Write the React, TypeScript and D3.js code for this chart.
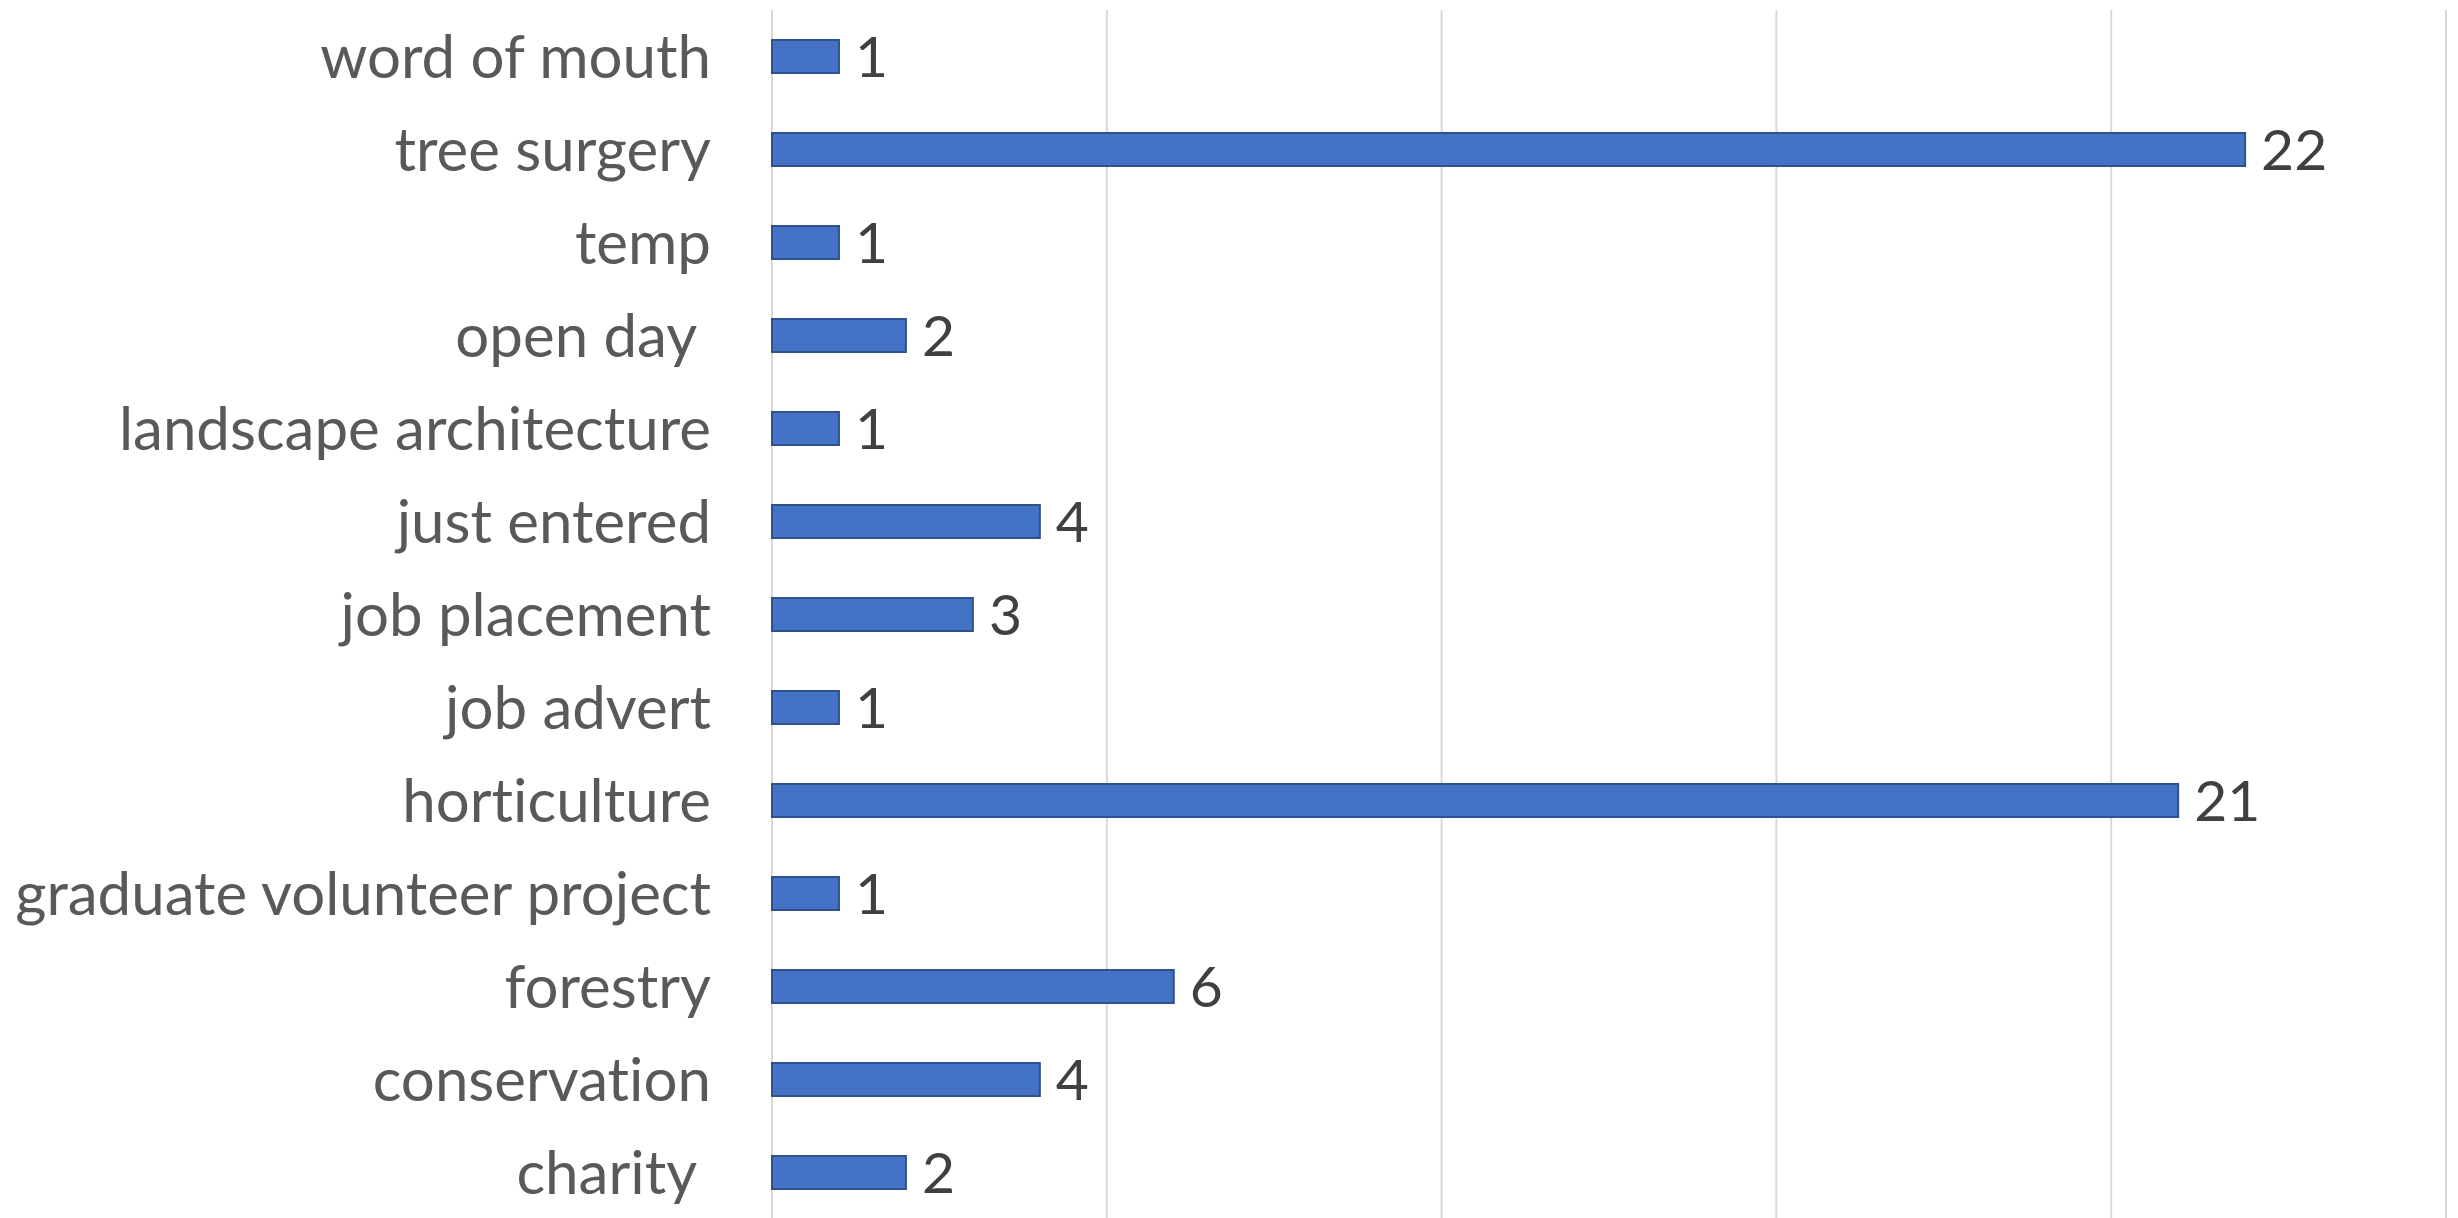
import React from "react";
import * as d3 from "d3";

const categories = [
  "word of mouth",
  "tree surgery",
  "temp",
  "open day ",
  "landscape architecture",
  "just entered",
  "job placement",
  "job advert",
  "horticulture",
  "graduate volunteer project",
  "forestry",
  "conservation",
  "charity ",
];
const values = [1, 22, 1, 2, 1, 4, 3, 1, 21, 1, 6, 4, 2];
const xTicks = [0, 5, 10, 15, 20, 25];

const W = 2458;
const H = 1218;

export default function App() {
  const x = d3.scaleLinear().domain([0, 25]).range([772, 2446]);
  const y = d3
    .scaleBand<string>()
    .domain(categories)
    .range([10, 1219])
    .paddingInner(0.645)
    .paddingOuter(0.3225);
  const font = "Lato, 'Open Sans', sans-serif";
  return (
    <svg
      width={W}
      height={H}
      style={{ position: "fixed", left: 0, top: 0, background: "#fff" }}
    >
      <rect x={0} y={0} width={W} height={H} fill="#fff" />
      {xTicks.map((t) => (
        <line
          key={t}
          x1={x(t)}
          x2={x(t)}
          y1={10}
          y2={1218}
          stroke="#d9d9d9"
          strokeWidth={2}
        />
      ))}
      {categories.map((c, i) => {
        const yy = y(c)!;
        const bh = y.bandwidth();
        return (
          <g key={c}>
            <rect
              x={x(0)}
              y={yy}
              width={x(values[i]) - x(0)}
              height={bh}
              fill="#4472C4"
              stroke="#2F528F"
              strokeWidth={2}
            />
            <text
              x={x(values[i]) + 16}
              y={yy + bh / 2}
              dy="0.36em"
              fontFamily={font}
              fontSize={57}
              fill="#404040"
            >
              {values[i]}
            </text>
            <text
              x={711}
              y={yy + bh / 2}
              dy="0.36em"
              textAnchor="end"
              fontFamily={font}
              fontSize={60}
              fill="#595959"
              style={{ whiteSpace: "pre", fontVariantLigatures: "none" }}
            >
              {c}
            </text>
          </g>
        );
      })}
    </svg>
  );
}
